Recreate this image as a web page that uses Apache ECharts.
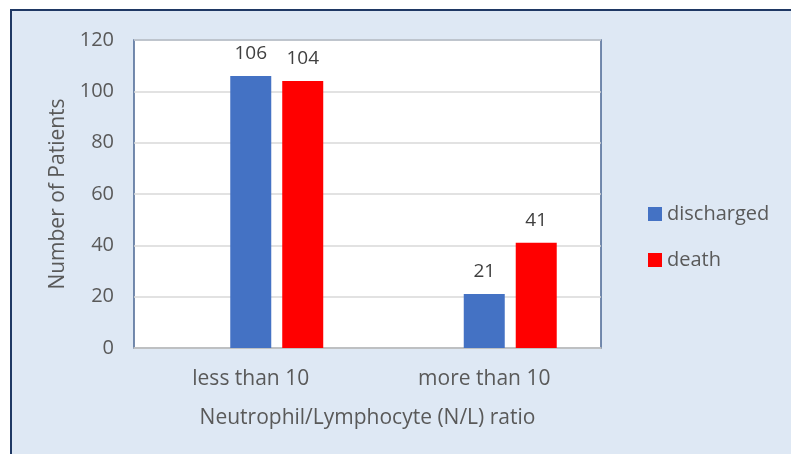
<!DOCTYPE html>
<html>
<head>
<meta charset="utf-8">
<style>
  html, body { margin: 0; padding: 0; background: #ffffff; }
  #chart { width: 791px; height: 454px; }
</style>
<script src="https://cdn.jsdelivr.net/npm/echarts@6/dist/echarts.min.js"></script>
</head>
<body>
<div id="chart"></div>
<script>
// N/L ratio groups and patient counts per outcome
const categories = ['less than 10', 'more than 10'];
const discharged = [106, 21];
const death = [104, 41];
// empty leading series slot in each group (keeps the bars right of centre)
const emptySlot = [null, null];
const yTicks = { min: 0, max: 120, interval: 20 };

const FONT = '"Open Sans", sans-serif';
const TEXT = '#595959';

const chart = echarts.init(document.getElementById('chart'), null, { renderer: 'canvas' });

const labelStyle = {
  show: true,
  position: 'top',
  distance: 13,
  color: '#404040',
  fontSize: 19,
  fontFamily: FONT
};

chart.setOption({
  backgroundColor: '#ffffff',
  animation: false,
  graphic: [{
    type: 'rect',
    z: -10,
    silent: true,
    shape: { x: 11, y: 10, width: 800, height: 470 },
    style: { fill: '#dee8f4', stroke: '#1f3864', lineWidth: 2 }
  }],
  grid: {
    left: 134, top: 40, width: 467, height: 308,
    show: true,
    backgroundColor: '#ffffff',
    borderColor: '#4a6592',
    borderWidth: 1.5,
    containLabel: false
  },
  legend: {
    orient: 'vertical',
    left: 643,
    top: 198,
    icon: 'rect',
    itemWidth: 14,
    itemHeight: 14,
    itemGap: 24,
    data: ['discharged', 'death'],
    textStyle: { color: TEXT, fontSize: 20, lineHeight: 22, fontFamily: FONT }
  },
  xAxis: {
    type: 'category',
    data: categories,
    name: 'Neutrophil/Lymphocyte (N/L) ratio',
    nameLocation: 'middle',
    nameGap: 60,
    nameTextStyle: { color: TEXT, fontSize: 21, fontFamily: FONT },
    axisLine: { show: true, lineStyle: { color: '#bfbfbf', width: 1.5 } },
    axisTick: { show: false },
    axisLabel: { color: TEXT, fontSize: 21, margin: 21, fontFamily: FONT }
  },
  yAxis: {
    type: 'value',
    min: yTicks.min,
    max: yTicks.max,
    interval: yTicks.interval,
    name: 'Number of Patients',
    nameLocation: 'middle',
    nameGap: 57,
    nameRotate: 90,
    nameTextStyle: { color: TEXT, fontSize: 21, fontFamily: FONT },
    axisLine: { show: false },
    axisTick: { show: false },
    axisLabel: { color: TEXT, fontSize: 20, margin: 20, fontFamily: FONT },
    splitLine: { lineStyle: { color: '#d9d9d9', width: 1.5 } }
  },
  series: [
    {
      name: '',
      type: 'bar',
      data: emptySlot,
      barWidth: 41,
      barGap: '26.8%'
    },
    {
      name: 'discharged',
      type: 'bar',
      data: discharged,
      barWidth: 41,
      barGap: '26.8%',
      itemStyle: { color: '#4472c4' },
      label: labelStyle
    },
    {
      name: 'death',
      type: 'bar',
      data: death,
      barWidth: 41,
      barGap: '26.8%',
      itemStyle: { color: '#ff0000' },
      label: labelStyle
    }
  ]
});
</script>
</body>
</html>
